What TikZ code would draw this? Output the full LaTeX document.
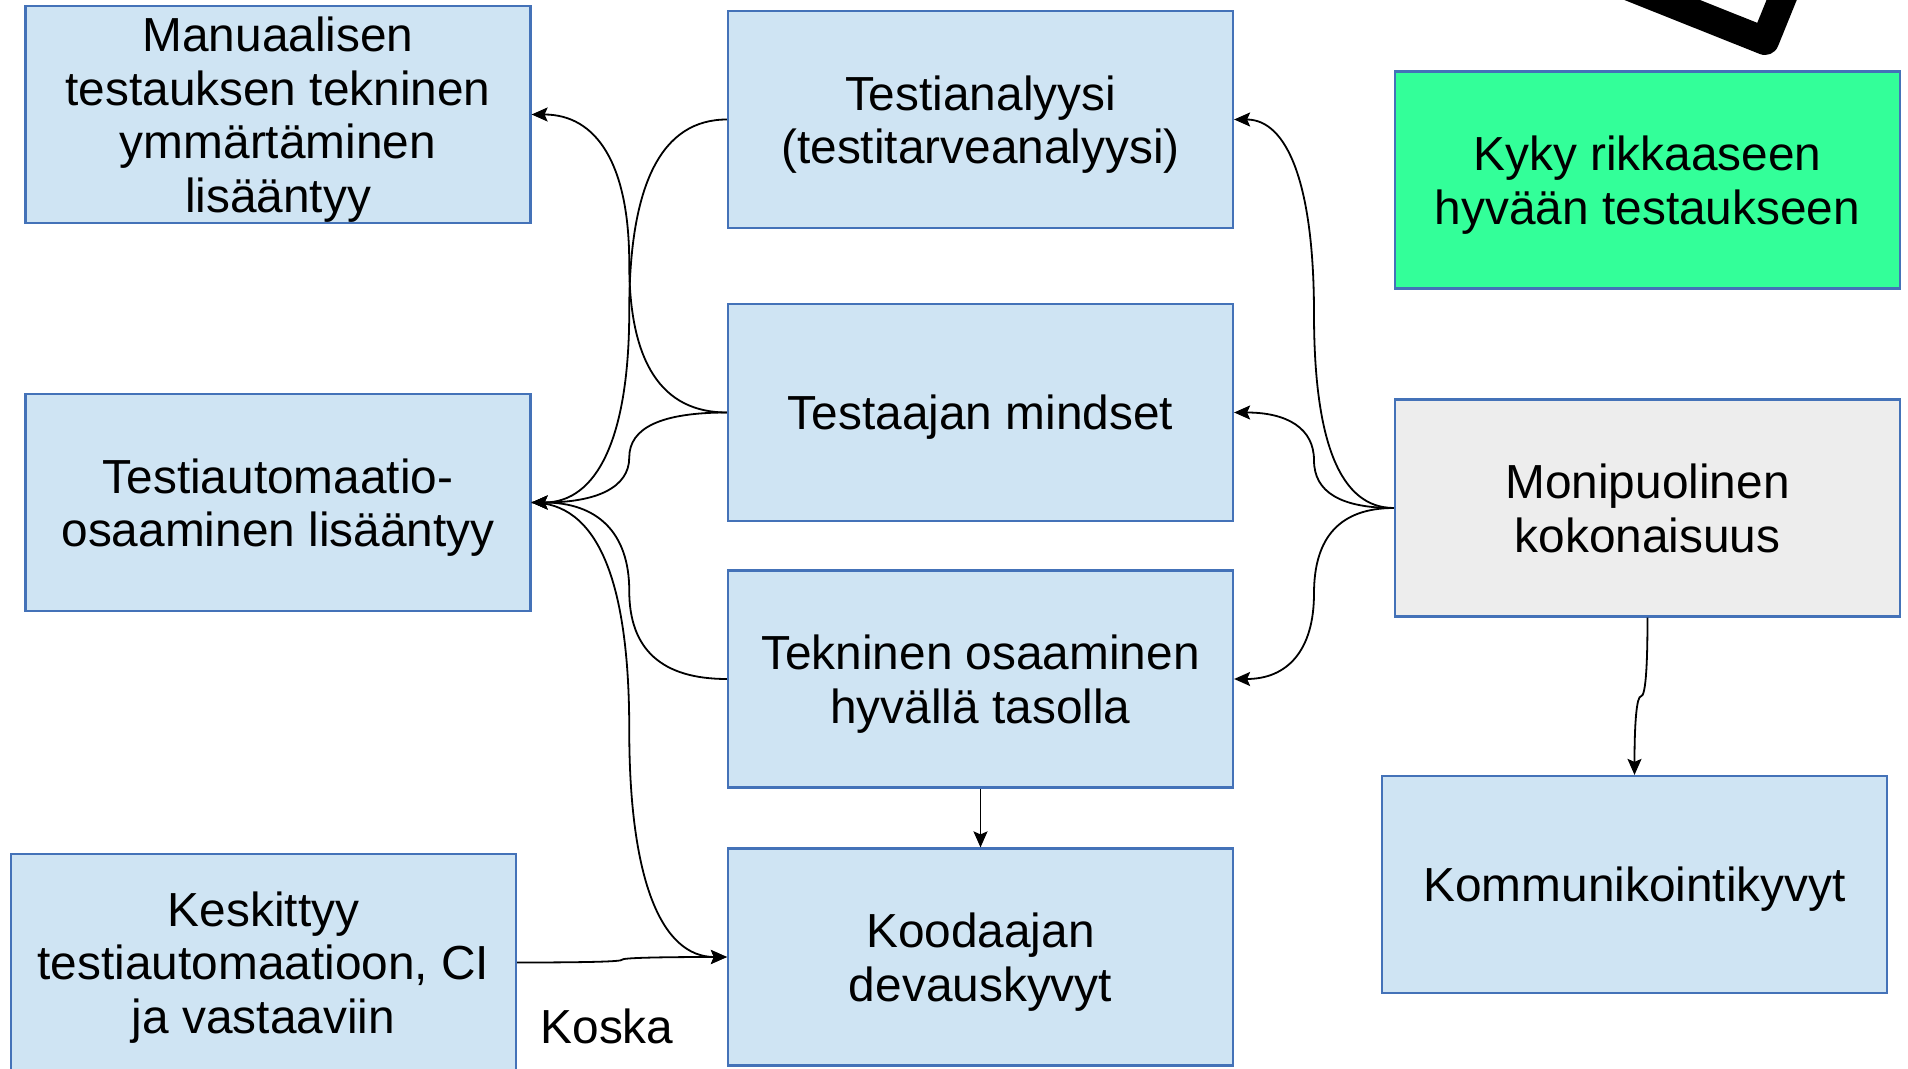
\documentclass[tikz,border=0pt]{standalone}
\usepackage{fontspec}
\setmainfont{Liberation Sans}
\usetikzlibrary{calc,arrows.meta}

\definecolor{boxblue}{RGB}{207,228,243}
\definecolor{edgeblue}{RGB}{68,114,184}
\definecolor{boxgreen}{RGB}{51,255,153}
\definecolor{boxgray}{RGB}{237,237,237}

\begin{document}
\begin{tikzpicture}[x=0.5pt,y=-0.5pt,
  box/.style={draw=edgeblue, line width=1.1pt, fill=boxblue,
    minimum width=252.5pt, minimum height=108.5pt, inner sep=0pt,
    text depth=0pt, align=center, font=\fontsize{23.9}{26.8}\selectfont},
  lbl/.style={inner sep=0pt, font=\fontsize{23.9}{26.8}\selectfont},
  arr/.style={draw=black, line width=0.9pt,
    -{Stealth[length=8pt,width=7pt,inset=1.5pt]}},
  % horizontal-first rounded elbow: two quadratic arcs through the midpoint
  hq/.style={to path={
    let \p1=(\tikztostart), \p2=(\tikztotarget), \p3=($(\p1)!.5!(\p2)$) in
    .. controls ($(\p1)!2/3!(\x3,\y1)$) and ($(\p3)!2/3!(\x3,\y1)$) .. (\p3)
    .. controls ($(\p3)!2/3!(\x3,\y2)$) and ($(\p2)!2/3!(\x3,\y2)$) .. (\p2) \tikztonodes}},
  % vertical-first variant
  vq/.style={to path={
    let \p1=(\tikztostart), \p2=(\tikztotarget), \p3=($(\p1)!.5!(\p2)$) in
    .. controls ($(\p1)!2/3!(\x1,\y3)$) and ($(\p3)!2/3!(\x1,\y3)$) .. (\p3)
    .. controls ($(\p3)!2/3!(\x2,\y3)$) and ($(\p2)!2/3!(\x2,\y3)$) .. (\p2) \tikztonodes}}
]
\useasboundingbox (0,0) rectangle (1908,1069);

% check mark corner in the top right
\draw[line width=14pt, line join=round] (1607,-22) -- (1765,41) -- (1793,-28);

% boxes
\node[box] (man)  at (278,114.5)   {Manuaalisen\\testauksen tekninen\\ymmärtäminen\\lisääntyy};
\node[box] (ana)  at (980.5,119.5) {Testianalyysi\\(testitarveanalyysi)};
\node[box, fill=boxgreen] (kyky) at (1647.5,180) {Kyky rikkaaseen\\hyvään testaukseen};
\node[box] (mind) at (980.5,412.5) {Testaajan mindset};
\node[box] (auto) at (278,502.5)   {Testiautomaatio-\\osaaminen lisääntyy};
\node[box, fill=boxgray] (moni) at (1647.5,508) {Monipuolinen\\kokonaisuus};
\node[box] (tekn) at (980.5,679)   {Tekninen osaaminen\\hyvällä tasolla};
\node[box] (komm) at (1634.5,884.5) {Kommunikointikyvyt};
\node[box] (kood) at (980.5,957)   {Koodaajan\\devauskyvyt};
\node[box] (kesk) at (263.5,962.5) {Keskittyy\\testiautomaatioon, CI\\ja vastaaviin};

\node[lbl] (koska) at (607,1026) {Koska};

% connectors, left group
\draw[arr] (mind.west) to[hq] (man.east);
\draw[arr] (ana.west)  to[hq] (auto.east);
\draw[arr] (mind.west) to[hq] (auto.east);
\draw[arr] (tekn.west) to[hq] (auto.east);
\draw[arr] (auto.east) to[hq] (kood.west);
\draw[arr] (kesk.east) to[hq] (kood.west);
\draw[arr] (tekn.south) -- (kood.north);

% connectors, right group
\draw[arr] (moni.west) to[hq] (ana.east);
\draw[arr] (moni.west) to[hq] (mind.east);
\draw[arr] (moni.west) to[hq] (tekn.east);
\draw[arr] (moni.south) to[vq] (komm.north);
\end{tikzpicture}
\end{document}
